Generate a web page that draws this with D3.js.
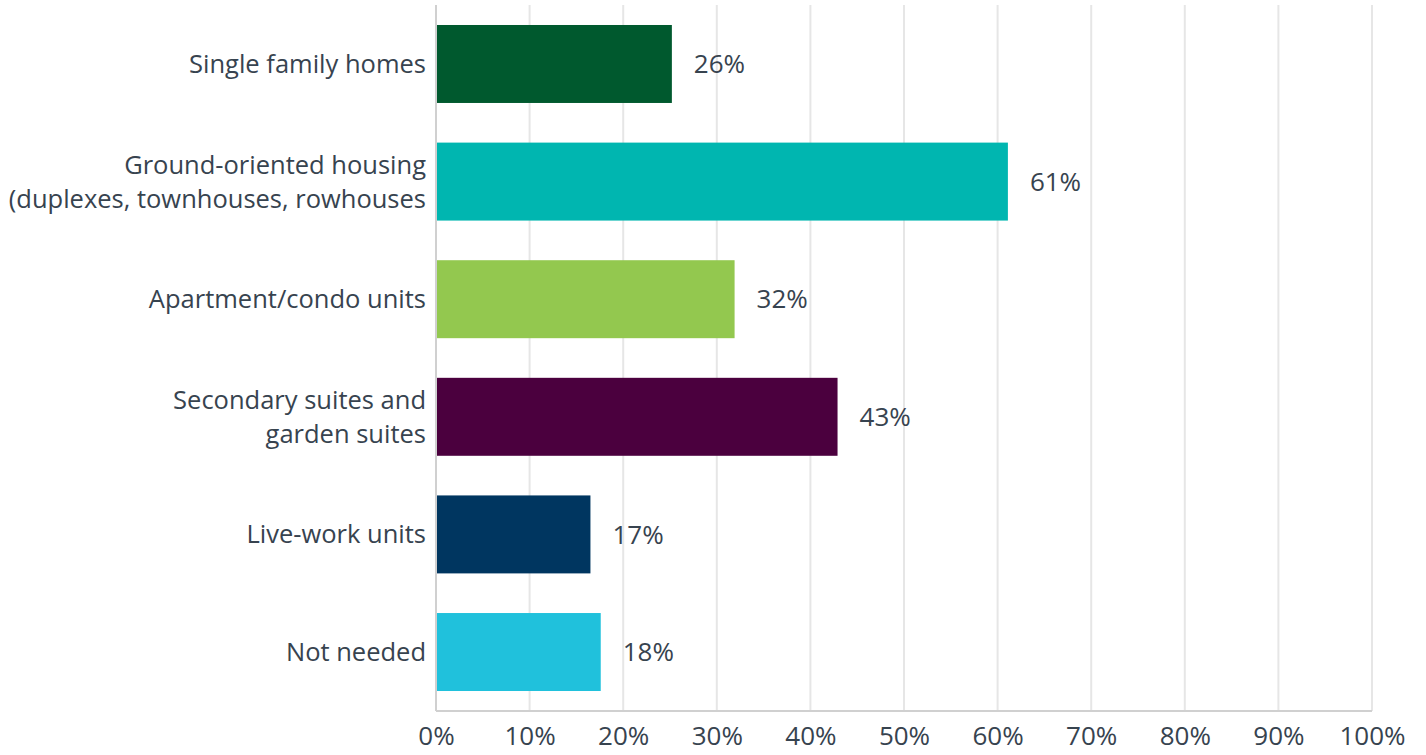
<!DOCTYPE html>
<html>
<head>
<meta charset="utf-8">
<script src="https://cdn.jsdelivr.net/npm/d3@7"></script>
<style>
  body { margin: 0; background: #fff; overflow: hidden; }
  svg { display: block; }
  svg text { font-family: "Open Sans", sans-serif; fill: #37434f; }
</style>
</head>
<body>
<svg id="chart" width="1426" height="755"></svg>
<script>
// data
const categories = [
  ["Single family homes"],
  ["Ground-oriented housing", "(duplexes, townhouses, rowhouses"],
  ["Apartment/condo units"],
  ["Secondary suites and", "garden suites"],
  ["Live-work units"],
  ["Not needed"]
];
const values = [25.2, 61.1, 31.9, 42.9, 16.5, 17.6];
const valueLabels = ["26%", "61%", "32%", "43%", "17%", "18%"];
const colors = ["#00592e", "#00b6b0", "#93c84f", "#4b003e", "#003660", "#20c1dc"];
const ticks = [0, 10, 20, 30, 40, 50, 60, 70, 80, 90, 100];

const margin = { top: 5, right: 54, bottom: 44, left: 436 };
const width = 1426, height = 755;
const innerWidth = width - margin.left - margin.right;
const innerHeight = height - margin.top - margin.bottom;
const fontSize = 26;

const svg = d3.select("#chart");
const g = svg.append("g").attr("transform", `translate(${margin.left},${margin.top})`);

const x = d3.scaleLinear().domain([0, 100]).range([0, innerWidth]);
const y = d3.scaleBand().domain(d3.range(categories.length)).range([0, innerHeight]).paddingInner(0.337).paddingOuter(0.17);

// vertical grid
g.append("g")
  .selectAll("line")
  .data(ticks.slice(1))
  .join("line")
  .attr("x1", d => x(d)).attr("x2", d => x(d))
  .attr("y1", 0).attr("y2", innerHeight)
  .attr("stroke", "#e6e6e6")
  .attr("stroke-width", 2);

// bars
g.selectAll("rect.bar")
  .data(values)
  .join("rect")
  .attr("class", "bar")
  .attr("x", 0)
  .attr("y", (d, i) => y(i))
  .attr("width", d => x(d))
  .attr("height", y.bandwidth())
  .attr("fill", (d, i) => colors[i]);

// value labels
g.selectAll("text.val")
  .data(values)
  .join("text")
  .attr("class", "val")
  .attr("x", d => x(d) + 22)
  .attr("y", (d, i) => y(i) + y.bandwidth() / 2)
  .attr("dy", "0.35em")
  .style("font-size", fontSize + "px")
  .text((d, i) => valueLabels[i]);

// category labels, two-line ones centred on the bar
const lh = 34;
g.selectAll("text.cat")
  .data(categories)
  .join("text")
  .attr("class", "cat")
  .attr("text-anchor", "end")
  .attr("x", -10)
  .attr("y", (d, i) => y(i) + y.bandwidth() / 2 - lh * (d.length - 1) / 2)
  .style("font-size", "25.5px")
  .each(function(lines) {
    const t = d3.select(this);
    lines.forEach((line, k) => {
      t.append("tspan")
        .attr("x", -10)
        .attr("dy", k === 0 ? "0.35em" : lh)
        .text(line);
    });
  });

// axis lines
g.append("line")
  .attr("x1", 0).attr("x2", 0).attr("y1", 0).attr("y2", innerHeight)
  .attr("stroke", "#d0d0d0").attr("stroke-width", 2);
g.append("line")
  .attr("x1", 0).attr("x2", innerWidth).attr("y1", innerHeight).attr("y2", innerHeight)
  .attr("stroke", "#d0d0d0").attr("stroke-width", 2);

// x axis
const xAxis = g.append("g")
  .attr("transform", `translate(0,${innerHeight})`)
  .call(d3.axisBottom(x).tickValues(ticks).tickSize(0).tickPadding(16).tickFormat(d => d + "%"));
xAxis.select(".domain").remove();
xAxis.selectAll("text")
  .style("font-size", fontSize + "px")
  .style("font-family", "'Open Sans', sans-serif")
  .attr("fill", "#37434f");
</script>
</body>
</html>
